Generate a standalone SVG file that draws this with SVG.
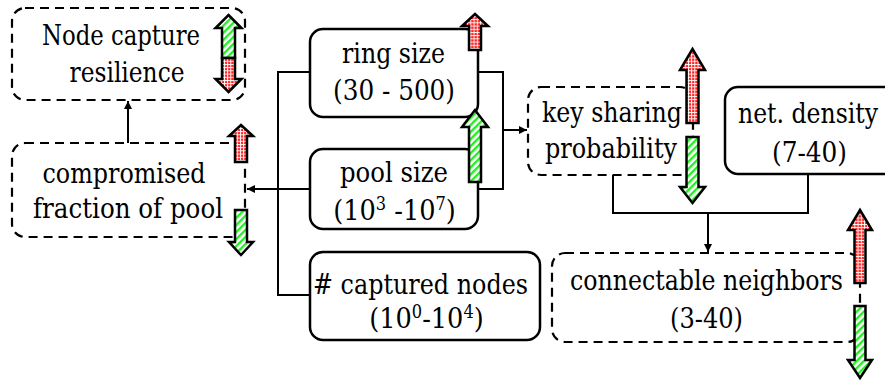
<svg xmlns="http://www.w3.org/2000/svg" width="885" height="383" viewBox="0 0 885 383">
  <defs>
    <!-- green diagonal hatch for "decrease" arrows -->
    <pattern id="hatchGreen" patternUnits="userSpaceOnUse" width="5" height="5" patternTransform="rotate(-45)">
      <rect width="5" height="5" fill="#ffffff"/>
      <rect width="5" height="2.4" fill="#22ee22"/>
    </pattern>
    <!-- red grid for "increase" arrows -->
    <pattern id="gridRed" patternUnits="userSpaceOnUse" width="3.2" height="3.2">
      <rect width="3.2" height="3.2" fill="#ff2222"/>
      <rect x="0" y="0" width="3.2" height="0.9" fill="#ffffff"/>
      <rect x="0" y="0" width="0.9" height="3.2" fill="#ffffff"/>
    </pattern>
    <marker id="tip" viewBox="0 0 10 10" refX="10" refY="5" markerWidth="8" markerHeight="8" markerUnits="userSpaceOnUse" orient="auto">
      <path d="M0,0 L10,5 L0,10 Z" fill="#000"/>
    </marker>
  </defs>
  <style>
    .txt { font-family: 'DejaVu Serif Condensed', 'DejaVu Serif', serif; font-stretch: condensed; font-size: 28.5px; fill: #000; text-anchor: middle; }
    .solid { fill: #fff; stroke: #000; stroke-width: 2.5; }
    .dashed { fill: #fff; stroke: #000; stroke-width: 2.2; stroke-dasharray: 9 6; }
    .wire { fill: none; stroke: #000; stroke-width: 2; }
    .up { fill: url(#gridRed); stroke: #000; stroke-width: 2.5; stroke-linejoin: miter; }
    .down { fill: url(#hatchGreen); stroke: #000; stroke-width: 2.5; stroke-linejoin: miter; }
    .sup { font-size: 18px; }
  </style>

  <rect width="885" height="383" fill="#fff"/>

  <!-- connectors -->
  <g id="connectors">
    <path class="wire" d="M310,72 H278 V295 H310"/>
    <path class="wire" d="M310,189 H247" marker-end="url(#tip)"/>
    <path class="wire" d="M478,72 H503 V189 H478"/>
    <path class="wire" d="M503,130 H527" marker-end="url(#tip)"/>
    <path class="wire" d="M128,143 V101" marker-end="url(#tip)"/>
    <path class="wire" d="M613,175 V213 H808 V174"/>
    <path class="wire" d="M708,213 V252" marker-end="url(#tip)"/>
  </g>

  <!-- Node capture resilience -->
  <g id="node-capture-resilience">
    <rect class="dashed" x="12" y="8" width="233" height="92" rx="13"/>
    <text class="txt" x="121" y="45" textLength="158" lengthAdjust="spacingAndGlyphs">Node capture</text>
    <text class="txt" x="127" y="82" textLength="115" lengthAdjust="spacingAndGlyphs">resilience</text>
    <polygon class="down" points="228.5,15 241.5,28 235,28 235,58 222,58 222,28 215.5,28"/>
    <polygon class="up" points="228.5,92 241.5,79 235,79 235,58 222,58 222,79 215.5,79"/>
  </g>

  <!-- compromised fraction of pool -->
  <g id="compromised-fraction">
    <rect class="dashed" x="12" y="143" width="233" height="94" rx="13"/>
    <text class="txt" x="124" y="183" textLength="163" lengthAdjust="spacingAndGlyphs">compromised</text>
    <text class="txt" x="128" y="218" textLength="190" lengthAdjust="spacingAndGlyphs">fraction of pool</text>
    <polygon class="up" points="241,125 253,136 247,136 247,162 235,162 235,136 229,136"/>
    <polygon class="down" points="241,255 253,242 247,242 247,210 235,210 235,242 229,242"/>
  </g>

  <!-- ring size -->
  <g id="ring-size">
    <rect class="solid" x="310" y="29" width="168" height="88" rx="13"/>
    <text class="txt" x="393.5" y="63" textLength="103" lengthAdjust="spacingAndGlyphs">ring size</text>
    <text class="txt" x="394" y="100" textLength="122" lengthAdjust="spacingAndGlyphs">(30 - 500)</text>
    <polygon class="up" points="475,14 488,26 481,26 481,50 469,50 469,26 462,26"/>
  </g>

  <!-- pool size -->
  <g id="pool-size">
    <rect class="solid" x="310" y="149" width="168" height="80" rx="13"/>
    <text class="txt" x="394" y="182" textLength="108" lengthAdjust="spacingAndGlyphs">pool size</text>
    <text class="txt" x="394.5" y="220">(10<tspan class="sup" dy="-10">3</tspan><tspan dy="10"> -10</tspan><tspan class="sup" dy="-10">7</tspan><tspan dy="10">)</tspan></text>
    <polygon class="down" points="475,110 488,127 481,127 481,182 469,182 469,127 462,127"/>
  </g>

  <!-- # captured nodes -->
  <g id="captured-nodes">
    <rect class="solid" x="310" y="252" width="230" height="88" rx="13"/>
    <text class="txt" x="420.5" y="294" textLength="215" lengthAdjust="spacingAndGlyphs"># captured nodes</text>
    <text class="txt" x="426.5" y="328">(10<tspan class="sup" dy="-10">0</tspan><tspan dy="10">-10</tspan><tspan class="sup" dy="-10">4</tspan><tspan dy="10">)</tspan></text>
  </g>

  <!-- key sharing probability -->
  <g id="key-sharing">
    <rect class="dashed" x="528" y="87" width="165" height="88" rx="13"/>
    <text class="txt" x="612" y="122" textLength="140" lengthAdjust="spacingAndGlyphs">key sharing</text>
    <text class="txt" x="611" y="158" textLength="132" lengthAdjust="spacingAndGlyphs">probability</text>
    <polygon class="up" points="692.5,49 705,70 698.5,70 698.5,123 686.5,123 686.5,70 680,70"/>
    <polygon class="down" points="692.5,203 705,187 698.5,187 698.5,137 686.5,137 686.5,187 680,187"/>
  </g>

  <!-- net. density -->
  <g id="net-density">
    <rect class="solid" x="725" y="87" width="175" height="87" rx="13"/>
    <text class="txt" x="808" y="123" textLength="140" lengthAdjust="spacingAndGlyphs">net. density</text>
    <text class="txt" x="809.5" y="162" textLength="75" lengthAdjust="spacingAndGlyphs">(7-40)</text>
  </g>

  <!-- connectable neighbors -->
  <g id="connectable-neighbors">
    <rect class="dashed" x="552" y="253" width="308" height="89" rx="13"/>
    <text class="txt" x="706.5" y="290" textLength="273" lengthAdjust="spacingAndGlyphs">connectable neighbors</text>
    <text class="txt" x="706.5" y="328" textLength="73" lengthAdjust="spacingAndGlyphs">(3-40)</text>
    <polygon class="up" points="860,210 872,230 865.5,230 865.5,283 854.5,283 854.5,230 848,230"/>
    <polygon class="down" points="860,378 872,360 865.5,360 865.5,306 854.5,306 854.5,360 848,360"/>
  </g>
</svg>
